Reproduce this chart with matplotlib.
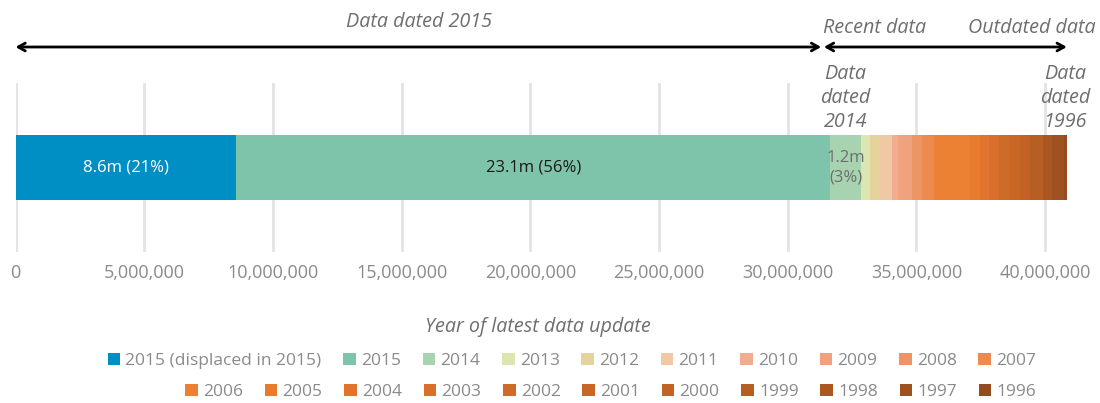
import matplotlib
matplotlib.use("Agg")
import matplotlib.pyplot as plt
from matplotlib.patches import Patch

plt.rcParams['font.family'] = ['Open Sans', 'DejaVu Sans']

# ---- data (people, in millions) ----
years = ["2015 (displaced in 2015)", "2015", "2014", "2013", "2012", "2011", "2010",
         "2009", "2008", "2007", "2006", "2005", "2004", "2003", "2002", "2001",
         "2000", "1999", "1998", "1997", "1996"]
values_m = [8.57, 23.08, 1.20, 0.35, 0.39, 0.47, 0.22, 0.55, 0.39, 0.47, 1.40,
            0.39, 0.35, 0.39, 0.43, 0.39, 0.39, 0.47, 0.35, 0.50, 0.12]
colors = ["#008fc5", "#7dc4ab", "#a8d3b0", "#dde5b0", "#e6d39c", "#f0c8a4", "#f2ad90",
          "#f0a27e", "#ee9566", "#ec8a50", "#ed8133", "#e97b2f", "#e0742c", "#d86f2a",
          "#cf6b28", "#c86626", "#c26325", "#b65e23", "#ab5722", "#a05121", "#944b20"]
xticks = [0, 5_000_000, 10_000_000, 15_000_000, 20_000_000, 25_000_000,
          30_000_000, 35_000_000, 40_000_000]
xtick_labels = ["0", "5,000,000", "10,000,000", "15,000,000", "20,000,000",
                "25,000,000", "30,000,000", "35,000,000", "40,000,000"]

values = [v * 1e6 for v in values_m]
total = sum(values)

W, H = 1100, 403
fig = plt.figure(figsize=(W / 100, H / 100), dpi=100)
ax_left, ax_right, ax_top, ax_bot = 15.5, 1085, 83, 252
ax = fig.add_axes([ax_left / W, 1 - ax_bot / H, (ax_right - ax_left) / W, (ax_bot - ax_top) / H])
scale = 25.74e-6  # px per person
ax.set_xlim(0, (ax_right - ax_left) / scale)
ax.set_ylim(-0.5, 0.5)

TXT = "#8a8a8a"
ANN = "#6e6e6e"
IT = 14.2

left = 0
bars = []
for v, c in zip(values, colors):
    ax.barh(0, v, left=left, height=0.39, color=c, zorder=3, linewidth=0)
    bars.append((left, v))
    left += v

l, v = bars[0]
ax.text(l + v / 2, 0, f"{v/1e6:.1f}m ({v/total*100:.0f}%)", ha='center', va='center',
        color='white', fontsize=12, zorder=4)
l, v = bars[1]
ax.text(l + v / 2, 0, f"{v/1e6:.1f}m ({v/total*100:.0f}%)", ha='center', va='center',
        color='#1a1a1a', fontsize=12, zorder=4)
l, v = bars[2]
ax.text(l + v / 2, 0, f"{v/1e6:.1f}m\n({v/total*100:.0f}%)", ha='center', va='center',
        color='#6e6e6e', fontsize=12, zorder=4, linespacing=1.3)

for s in ax.spines.values():
    s.set_visible(False)
ax.set_yticks([])
ax.set_xticks(xticks)
ax.set_xticklabels(xtick_labels, color=TXT, fontsize=13)
ax.tick_params(axis='x', length=0, pad=9)
ax.grid(axis='x', color='#e3e3e3', linewidth=2, zorder=0)
ax.set_axisbelow(True)

# annotations above bar
split = values[0] + values[1]
arrow_meet = split - 0.27e6   # arrows meet slightly left of the 2015/2014 boundary
yc = ('data', 'figure fraction')
y_arrow = 1 - 47 / H
astyle = '<->, head_length=0.5, head_width=0.28'
ax.annotate('', xy=(0, y_arrow), xytext=(arrow_meet, y_arrow), xycoords=yc, textcoords=yc,
            arrowprops=dict(arrowstyle=astyle, color='black', lw=2.0, shrinkA=1.5, shrinkB=0,
                            mutation_scale=10), annotation_clip=False)
ax.annotate('', xy=(arrow_meet, y_arrow), xytext=(total, y_arrow), xycoords=yc, textcoords=yc,
            arrowprops=dict(arrowstyle=astyle, color='black', lw=2.0, shrinkA=0.5, shrinkB=0.5,
                            mutation_scale=10), annotation_clip=False)

ax.annotate("Data dated 2015", xy=(split / 2 - 0.15e6, 1 - 27 / H), xycoords=yc,
            ha='center', va='baseline', fontsize=IT, style='italic', color=ANN, annotation_clip=False)
ax.annotate("Recent data", xy=(split + 1.73e6, 1 - 33 / H), xycoords=yc,
            ha='center', va='baseline', fontsize=IT, style='italic', color=ANN, annotation_clip=False)
ax.annotate("Outdated data", xy=(total - 1.4e6, 1 - 33 / H), xycoords=yc,
            ha='center', va='baseline', fontsize=IT, style='italic', color=ANN, annotation_clip=False)

l, v = bars[2]
ax.annotate("Data\ndated\n2014", xy=(l + v / 2, 1 - 127 / H), xycoords=yc,
            ha='center', va='baseline', fontsize=IT, style='italic', color=ANN,
            linespacing=1.27, annotation_clip=False)
l, v = bars[-1]
ax.annotate("Data\ndated\n1996", xy=(l + v / 2 - 0.04e6, 1 - 127 / H), xycoords=yc,
            ha='center', va='baseline', fontsize=IT, style='italic', color=ANN,
            linespacing=1.27, annotation_clip=False)

fig.text(538 / W, 1 - 327 / H, "Year of latest data update", ha='center', va='center',
         fontsize=IT, style='italic', color=ANN)

# legend, two rows
handles = [Patch(facecolor=c, edgecolor='none', label=y) for y, c in zip(years, colors)]
row1, row2 = handles[:10], handles[10:]
common = dict(frameon=False, fontsize=12.5, handlelength=0.72, handleheight=0.72,
              handletextpad=0.3, columnspacing=1.25, borderpad=0, borderaxespad=0,
              labelcolor=TXT)
fig.legend(handles=row1, ncol=10, loc='center right',
           bbox_to_anchor=(1036 / W, 1 - 361 / H), **common)
fig.legend(handles=row2, ncol=11, loc='center right',
           bbox_to_anchor=(1036 / W, 1 - 392 / H), **common)

fig.savefig("out.png", dpi=100)
